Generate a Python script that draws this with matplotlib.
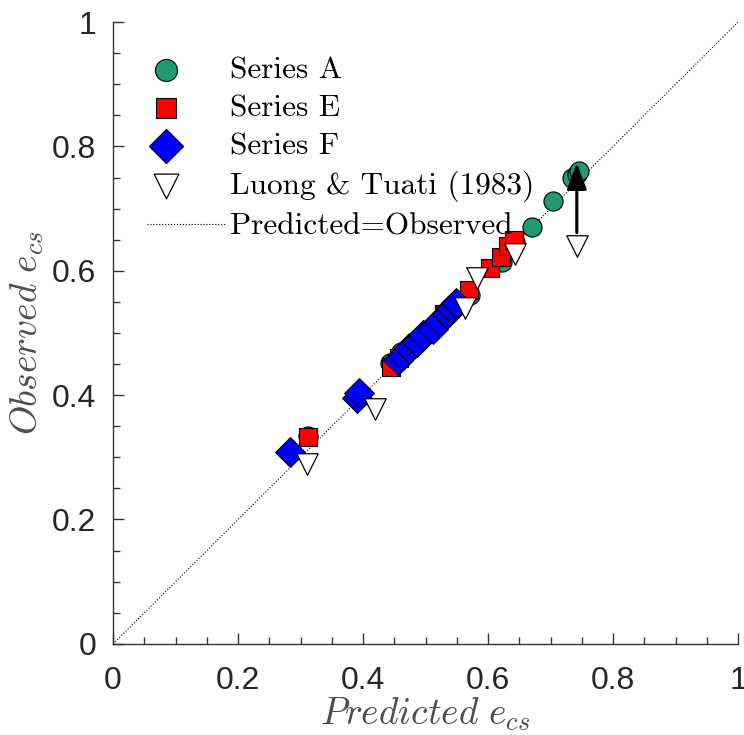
import matplotlib
matplotlib.use("Agg")
import matplotlib.pyplot as plt
from matplotlib.ticker import MultipleLocator
from matplotlib.legend_handler import HandlerPathCollection

plt.rcParams['mathtext.fontset'] = 'cm'
plt.rcParams['font.family'] = ['Liberation Sans', 'DejaVu Sans']

# data (predicted, observed)
a_pred = [0.312, 0.443, 0.461, 0.571, 0.622, 0.643, 0.670, 0.704, 0.735, 0.742, 0.746]
a_obs = [0.334, 0.452, 0.470, 0.561, 0.614, 0.646, 0.670, 0.712, 0.749, 0.755, 0.760]

e_pred = [0.312, 0.445, 0.458, 0.530, 0.570, 0.603, 0.621, 0.632, 0.642]
e_obs = [0.332, 0.446, 0.460, 0.530, 0.569, 0.604, 0.622, 0.640, 0.650]

f_pred = [0.283, 0.390, 0.393, 0.456, 0.462, 0.473, 0.486, 0.496, 0.512, 0.522, 0.535, 0.540, 0.548]
f_obs = [0.309, 0.396, 0.404, 0.456, 0.463, 0.476, 0.486, 0.497, 0.507, 0.520, 0.530, 0.540, 0.548]

lt_pred = [0.310, 0.419, 0.563, 0.582, 0.643, 0.742]
lt_obs = [0.290, 0.377, 0.540, 0.588, 0.627, 0.640]

# arrow showing the shift of the last Luong & Tuati point
arrow_x = 0.742
arrow_from = 0.657
arrow_to = 0.778


# legend markers sit left in the handle box, like the original
class LeftMarker(HandlerPathCollection):
    def get_xdata(self, legend, xdescent, ydescent, width, height, fontsize):
        x = -xdescent + 0.24 * width
        return [x], [x]


fig = plt.figure(figsize=(7.44, 7.35), dpi=100)
ax = fig.add_axes([0.152, 0.124, 0.840, 0.846])

line, = ax.plot([0, 1], [0, 1], ':', color='k', lw=0.8, label='Predicted=Observed')
sa = ax.scatter(a_pred, a_obs, s=190, marker='o', facecolor='#1f9a73', edgecolor='k', lw=0.8,
                zorder=3, label='Series A')
se = ax.scatter(e_pred, e_obs, s=150, marker='s', facecolor='#ff0000', edgecolor='k', lw=0.8,
                zorder=4, label='Series E')
sf = ax.scatter(f_pred, f_obs, s=230, marker='D', facecolor='#0000ff', edgecolor='k', lw=0.8,
                zorder=5, label='Series F')
sl = ax.scatter(lt_pred, lt_obs, s=240, marker='v', facecolor='white', edgecolor='k', lw=0.9,
                zorder=6, label='Luong & Tuati (1983)')

ax.annotate('', xy=(arrow_x, arrow_to), xytext=(arrow_x, arrow_from),
            arrowprops=dict(arrowstyle='-|>,head_length=1.6,head_width=0.6', color='k', lw=2.2),
            zorder=7)

ax.set_xlim(0, 1)
ax.set_ylim(0, 1)
ax.xaxis.set_major_locator(MultipleLocator(0.2))
ax.yaxis.set_major_locator(MultipleLocator(0.2))
ax.xaxis.set_minor_locator(MultipleLocator(0.05))
ax.yaxis.set_minor_locator(MultipleLocator(0.05))
ax.xaxis.set_major_formatter(plt.FuncFormatter(lambda v, p: '%g' % round(v, 2)))
ax.yaxis.set_major_formatter(plt.FuncFormatter(lambda v, p: '%g' % round(v, 2)))

for sp in ['top', 'right']:
    ax.spines[sp].set_visible(False)
for sp in ['left', 'bottom']:
    ax.spines[sp].set_color('#333333')
    ax.spines[sp].set_linewidth(1.0)
ax.tick_params(which='major', direction='in', length=8, width=1, colors='#333333',
               labelsize=23, labelcolor='#262626')
ax.tick_params(axis='x', which='major', pad=16)
ax.tick_params(axis='y', which='major', pad=12)
ax.tick_params(which='minor', direction='in', length=5, width=1, colors='#333333')

ax.set_xlabel(r'$\mathit{Predicted}\ e_{cs}$', fontsize=27, color='#4d4d4d', labelpad=0)
ax.set_ylabel(r'$\mathit{Observed}\ e_{cs}$', fontsize=27, color='#4d4d4d', labelpad=4)

ax.legend([sa, se, sf, sl, line],
          ['Series A', 'Series E', 'Series F', 'Luong & Tuati (1983)', 'Predicted=Observed'],
          loc='upper left', bbox_to_anchor=(0.054, 0.945), frameon=False,
          handlelength=2.5, handletextpad=0.15, labelspacing=0.33, borderpad=0,
          borderaxespad=0, scatterpoints=1, markerscale=1.15,
          handler_map={type(sa): LeftMarker()},
          prop=dict(family='cmr10', size=22.5))

fig.savefig('out.png', dpi=100)
